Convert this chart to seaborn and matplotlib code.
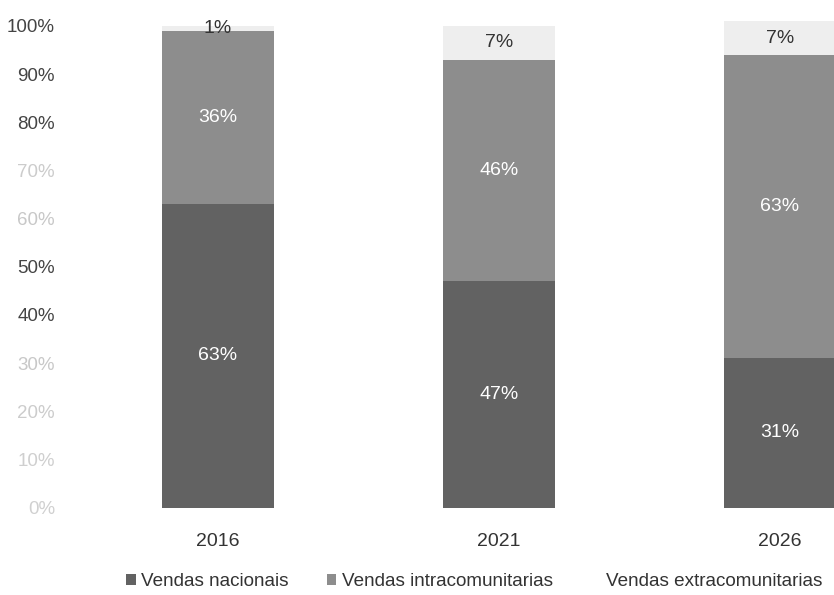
import matplotlib
matplotlib.use("Agg")
import matplotlib.pyplot as plt
from matplotlib.patches import Patch
import seaborn as sns
import numpy as np
import pandas as pd

years = ["2016", "2021", "2026"]
nacionais = [63, 47, 31]
intracomunitarias = [36, 46, 63]
extracomunitarias = [1, 7, 7]
series_names = ["Vendas nacionais", "Vendas intracomunitarias", "Vendas extracomunitarias"]
colors = ["#626262", "#8d8d8d", "#eeeeee"]
label_colors = ["white", "white", "#333333"]
tick_labels = ["0%", "10%", "20%", "30%", "40%", "50%", "60%", "70%", "80%", "90%", "100%"]
tick_colors = ["#d0d0d0", "#cfcfcf", "#cccccc", "#c8c8c8", "#444444", "#444444",
               "#c8c8c8", "#cccccc", "#444444", "#444444", "#444444"]

sns.set_theme(style="white")
plt.rcParams["font.family"] = ["Liberation Sans Narrow", "Liberation Sans", "DejaVu Sans"]

W, H = 834, 595
fig = plt.figure(figsize=(W / 100, H / 100), dpi=100)

# pixel layout of the plotting area
left_px, right_px = 62, 834
bottom_px = 507.5
px_per_pct = 4.815
ymax = 102
top_px = bottom_px - ymax * px_per_pct
ax = fig.add_axes([left_px / W, (H - bottom_px) / H,
                   (right_px - left_px) / W, (bottom_px - top_px) / H])

df = pd.DataFrame({"ano": years,
                   "nac": nacionais,
                   "intra": intracomunitarias,
                   "extra": extracomunitarias})
df["c1"] = df["nac"]
df["c2"] = df["nac"] + df["intra"]
df["c3"] = df["c2"] + df["extra"]

# cumulative layers drawn back to front to form stacked bars
for col, color in zip(["c3", "c2", "c1"], colors[::-1]):
    sns.barplot(data=df, x="ano", y=col, color=color, width=0.4,
                saturation=1, linewidth=0, ax=ax, errorbar=None)

# segment value labels
for i in range(len(years)):
    seg_vals = [nacionais[i], intracomunitarias[i], extracomunitarias[i]]
    base = 0
    for k, v in enumerate(seg_vals):
        ax.text(i, base + v / 2, f"{v}%", ha="center", va="center",
                fontsize=14, color=label_colors[k])
        base += v

x0 = (left_px - 218) / 281
x1 = (right_px - 218) / 281
ax.set_xlim(x0, x1)
ax.set_ylim(0, ymax)
ax.set_yticks(np.arange(0, 101, 10))
ax.set_yticklabels(tick_labels, fontsize=13.5)
for t, c in zip(ax.get_yticklabels(), tick_colors):
    t.set_color(c)
ax.tick_params(axis="y", length=0, pad=5)
ax.tick_params(axis="x", length=0, pad=18, labelsize=14, labelcolor="#333333")
ax.set_xlabel("")
ax.set_ylabel("")
for s in ax.spines.values():
    s.set_visible(False)

handles = [Patch(facecolor=colors[0], edgecolor="none"),
           Patch(facecolor=colors[1], edgecolor="none"),
           Patch(facecolor="white", edgecolor="none")]
fig.legend(handles, series_names, loc="center", ncol=3,
           bbox_to_anchor=(474 / W, 1 - 582 / H), frameon=False,
           fontsize=13.6, handlelength=0.5, handleheight=0.5,
           handletextpad=0.3, columnspacing=2.0, labelcolor="#333333",
           borderpad=0, borderaxespad=0)

fig.savefig("out.png", dpi=100)
